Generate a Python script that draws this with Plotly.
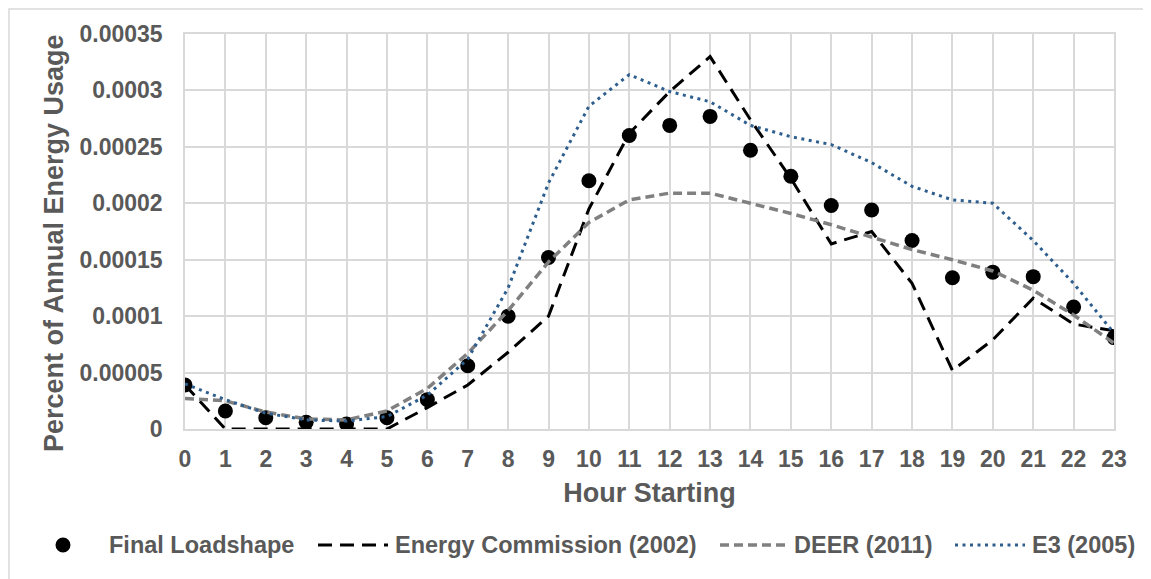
import plotly.graph_objects as go

hours = list(range(24))
hour_labels = [str(h) for h in hours]

final_loadshape = [3.9e-5, 1.6e-5, 1.0e-5, 0.6e-5, 0.45e-5, 1.0e-5, 2.6e-5, 5.6e-5,
                   1.00e-4, 1.52e-4, 2.20e-4, 2.60e-4, 2.69e-4, 2.77e-4, 2.47e-4, 2.24e-4,
                   1.98e-4, 1.94e-4, 1.67e-4, 1.34e-4, 1.39e-4, 1.35e-4, 1.08e-4, 0.81e-4]

energy_commission = [3.9e-5, 0.0, 0.0, 0.0, 0.0, 0.0, 1.9e-5, 3.9e-5,
                     6.8e-5, 1.00e-4, 1.95e-4, 2.62e-4, 2.99e-4, 3.30e-4, 2.74e-4, 2.22e-4,
                     1.64e-4, 1.75e-4, 1.29e-4, 5.2e-5, 7.9e-5, 1.16e-4, 9.3e-5, 8.7e-5]

deer = [2.7e-5, 2.5e-5, 1.5e-5, 0.9e-5, 0.8e-5, 1.6e-5, 3.6e-5, 6.7e-5,
        1.05e-4, 1.48e-4, 1.83e-4, 2.03e-4, 2.09e-4, 2.09e-4, 2.00e-4, 1.91e-4,
        1.81e-4, 1.70e-4, 1.59e-4, 1.50e-4, 1.40e-4, 1.23e-4, 1.01e-4, 7.6e-5]

e3 = [4.0e-5, 2.6e-5, 1.4e-5, 0.8e-5, 0.7e-5, 1.1e-5, 3.0e-5, 6.2e-5,
      1.25e-4, 2.18e-4, 2.86e-4, 3.14e-4, 2.99e-4, 2.90e-4, 2.69e-4, 2.59e-4,
      2.52e-4, 2.36e-4, 2.15e-4, 2.03e-4, 2.00e-4, 1.67e-4, 1.29e-4, 8.5e-5]

series_names = ["Final Loadshape", "Energy Commission (2002)", "DEER (2011)", "E3 (2005)"]

y_tickvals = [0, 0.00005, 0.0001, 0.00015, 0.0002, 0.00025, 0.0003, 0.00035]
y_ticktext = ["0", "0.00005", "0.0001", "0.00015", "0.0002", "0.00025", "0.0003", "0.00035"]

TXT = "#595959"
GRID = "#d9d9d9"
FONT = "Liberation Sans, Arial, sans-serif"

styles = [
    dict(kind="marker", color="black", size=15),
    dict(kind="line", color="black", width=3, dash="14px,8px"),
    dict(kind="line", color="#808080", width=3.5, dash="9px,5px"),
    dict(kind="line", color="#2e5e8e", width=3, dash="3px,4.5px"),
]

fig = go.Figure()
for name, vals, st in zip(series_names, [final_loadshape, energy_commission, deer, e3], styles):
    if st["kind"] == "marker":
        fig.add_trace(go.Scatter(x=hours, y=vals, mode="markers", name=name,
                                 marker=dict(color=st["color"], size=st["size"])))
    else:
        fig.add_trace(go.Scatter(x=hours, y=vals, mode="lines", name=name,
                                 line=dict(color=st["color"], width=st["width"], dash=st["dash"])))

# Screen geometry (page has 8px body margin): plot area x 185..1114, y 34..429
PL, PR, PT, PB = 185, 1114, 34, 429
def px(sx):
    return (sx - PL) / (PR - PL)
def py(sy):
    return (PB - sy) / (PB - PT)

shapes = [dict(type="rect", xref="paper", yref="paper",
               x0=px(9), x1=1.1, y0=-0.5, y1=py(9),
               line=dict(color=GRID, width=1.5), layer="below")]
annotations = []

# Custom legend (Excel-like long symbols)
leg_y = 545
sym_spans = [(63, 63), (318, 388), (720, 788), (955, 1025)]
text_x = [107, 393, 792, 1030]
for name, st, (s0, s1), tx in zip(series_names, styles, sym_spans, text_x):
    if st["kind"] == "marker":
        shapes.append(dict(type="circle", xref="paper", yref="paper",
                           xsizemode="pixel", ysizemode="pixel",
                           xanchor=px(s0), yanchor=py(leg_y),
                           x0=-7.5, x1=7.5, y0=-7.5, y1=7.5,
                           fillcolor=st["color"], line=dict(width=0)))
    else:
        shapes.append(dict(type="line", xref="paper", yref="paper",
                           x0=px(s0), x1=px(s1), y0=py(leg_y), y1=py(leg_y),
                           line=dict(color=st["color"], width=st["width"], dash=st["dash"])))
    annotations.append(dict(text="<b>%s</b>" % name, xref="paper", yref="paper",
                            x=px(tx), y=py(leg_y), xanchor="left", yanchor="middle",
                            showarrow=False, font=dict(size=23.5, color=TXT, family=FONT)))

# y-axis title
annotations.append(dict(text="<b>Percent of Annual Energy Usage</b>", xref="paper", yref="paper",
                        x=px(54), y=py(243), xanchor="center", yanchor="middle", textangle=-90,
                        showarrow=False, font=dict(size=27, color=TXT, family=FONT)))

fig.update_layout(
    width=1151, height=579,
    margin=dict(l=PL - 8, r=1151 - (PR - 8), t=PT - 8, b=579 - (PB - 8)),
    paper_bgcolor="white", plot_bgcolor="white",
    font=dict(family=FONT, color=TXT, size=20),
    showlegend=False,
    shapes=shapes,
    annotations=annotations,
)

fig.update_xaxes(
    range=[0, 23], tickmode="array", tickvals=hours, ticktext=["<b>%s</b>" % t for t in hour_labels],
    showgrid=True, gridcolor=GRID, gridwidth=1.5, zeroline=False,
    showline=True, linecolor=GRID, linewidth=1.5, mirror=True,
    ticks="outside", ticklen=9, tickcolor="rgba(0,0,0,0)",
    tickfont=dict(size=23, color=TXT, family=FONT),
    title=dict(text="<b>Hour Starting</b>", font=dict(size=27, color=TXT, family=FONT), standoff=12),
)
fig.update_yaxes(
    range=[0, 0.00035], tickmode="array", tickvals=y_tickvals,
    ticktext=["<b>%s</b>" % t for t in y_ticktext],
    showgrid=True, gridcolor=GRID, gridwidth=1.5, zeroline=False,
    showline=True, linecolor=GRID, linewidth=1.5, mirror=True,
    ticks="outside", ticklen=16, tickcolor="rgba(0,0,0,0)",
    tickfont=dict(size=23, color=TXT, family=FONT),
)

fig.write_html("out.html")
